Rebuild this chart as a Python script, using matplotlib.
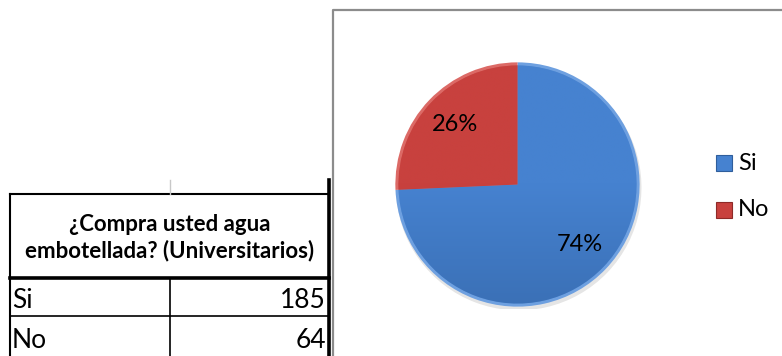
import matplotlib.pyplot as plt
import numpy as np
from matplotlib.patches import Wedge, Rectangle
from matplotlib.colors import LinearSegmentedColormap

# survey data ------------------------------
question = "¿Compra usted agua\nembotellada? (Universitarios)"
categories = ["Si", "No"]
counts = [185, 64]
colors = ["#4682d0", "#c8413e"]
light = ["#6ea0e0", "#dc6a66"]
dark = ["#2f5e9c", "#8e2a28"]

plt.rcParams['font.family'] = ['Lato', 'DejaVu Sans']

W, H = 782, 356
fig = plt.figure(figsize=(W / 100, H / 100), dpi=100)
fig.patch.set_facecolor("white")

# background axes in pixel coordinates (table + chart frame)
bg = fig.add_axes([0, 0, 1, 1])
bg.set_xlim(0, W)
bg.set_ylim(H, 0)
bg.axis("off")

# chart area frame
bg.plot([333, 333, W + 5], [H + 5, 10, 10], color="#8c8c8c", lw=1.6, zorder=1)

# table -------------------------------
x0, xm, x1 = 10, 170, 329
y0, yh, y2, y3 = 194, 278, 316, H + 2
bg.add_patch(Rectangle((x0, y0), x1 - x0, y3 - y0, facecolor="white",
                       edgecolor="none", zorder=2))
lk = dict(color="black", zorder=3, solid_capstyle="projecting")
bg.plot([x0, x1], [y0, y0], lw=1.5, **lk)
bg.plot([x0, x1], [yh, yh], lw=2.6, **lk)
bg.plot([x0, x1], [y2, y2], lw=1.2, **lk)
bg.plot([x0, x0], [y0, y3], lw=1.5, **lk)
bg.plot([x1, x1], [180, y3], lw=2.6, **lk)
bg.plot([xm, xm], [yh, y3], lw=1.2, **lk)
bg.plot([xm, xm], [180, y0], lw=1.0, color="#c8c8c8", zorder=3)

bg.text((x0 + x1) / 2, (y0 + yh) / 2 + 2, question, ha="center", va="center",
        fontsize=16, fontweight="bold", linespacing=1.25, zorder=4)
row_y = [301, 340]
for cat, n, yc in zip(categories, counts, row_y):
    bg.text(x0 + 2, yc, cat, ha="left", va="center", fontsize=19, zorder=4)
    bg.text(x1 - 3, yc, str(n), ha="right", va="center", fontsize=19, zorder=4)

# pie -------------------------------
cx, cy, r = 517.5, 184.5, 124
ax = fig.add_axes([(cx - r) / W, (H - cy - r) / H, 2 * r / W, 2 * r / H])
ax.set_xlim(-1, 1)
ax.set_ylim(-1, 1)
ax.set_aspect("equal")
ax.axis("off")

total = sum(counts)
fracs = np.array(counts) / total
start = 90.0
yy, xx = np.mgrid[-1:1:300j, -1:1:300j]
shade = 0.5 + 0.5 * yy  # lighter at top
for i, f in enumerate(fracs):
    end = start - 360 * f
    # soft shadow under the pie
    sh = Wedge((0.01, -0.025), 0.99, end, start, facecolor="#000000", alpha=0.10,
               edgecolor="none", zorder=1)
    ax.add_patch(sh)
    rim = Wedge((0, 0), 0.985, end, start, facecolor=light[i], edgecolor="none",
                zorder=2)
    ax.add_patch(rim)
    inner = Wedge((0, 0), 0.96, end, start, facecolor=colors[i],
                  edgecolor="none", zorder=3)
    ax.add_patch(inner)
    cmap = LinearSegmentedColormap.from_list("s", [dark[i], colors[i], colors[i]])
    im = ax.imshow(shade, extent=(-1, 1, -1, 1), origin="lower", cmap=cmap,
                   alpha=0.5, zorder=4)
    im.set_clip_path(inner)
    mid = np.deg2rad((start + end) / 2)
    ax.text(0.7 * np.cos(mid), 0.7 * np.sin(mid),
            f"{round(100 * f)}%", ha="center", va="center", fontsize=17, zorder=5)
    start = end

# legend -------------------------------
for i, cat in enumerate(categories):
    ly = 163 + 47 * i
    bg.add_patch(Rectangle((716, ly - 8), 16, 16, facecolor=colors[i],
                           edgecolor=dark[i], lw=0.8, zorder=4))
    bg.text(738, ly, cat, ha="left", va="center", fontsize=17, zorder=4)

fig.savefig("out.png", dpi=100)
